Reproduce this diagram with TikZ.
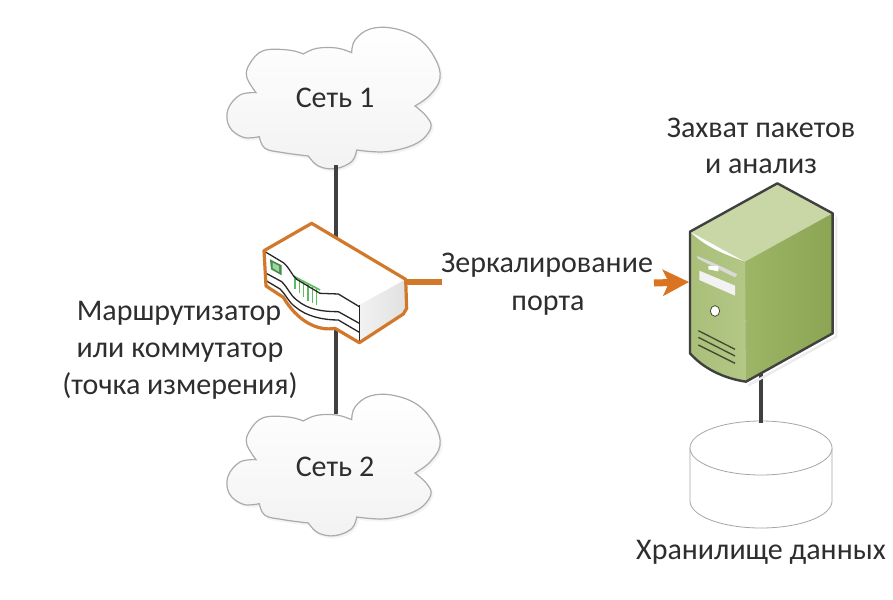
\documentclass[tikz,border=0pt]{standalone}
\usepackage{fontspec}
\setmainfont{Carlito}
\usetikzlibrary{arrows.meta}
\definecolor{inkc}{HTML}{2E2E2E}
\definecolor{wire}{HTML}{404040}
\definecolor{orangec}{HTML}{D2782A}
\definecolor{arrowc}{HTML}{DB7420}
\definecolor{cloudline}{HTML}{ABABAB}
\definecolor{greenc}{HTML}{5DBB63}
\definecolor{serverTop}{HTML}{C9D6A6}
\definecolor{serverRightA}{HTML}{9DB566}
\definecolor{serverRightB}{HTML}{8BA553}
\definecolor{serverFrontA}{HTML}{A9BF78}
\definecolor{serverFrontB}{HTML}{B4C786}
\definecolor{ventc}{HTML}{3F4A30}
\tikzset{
  lbl/.style={font=\fontsize{30}{34}\selectfont, text=inkc, inner sep=0pt, anchor=base},
  wireline/.style={draw=wire, line width=3.8pt},
  zoomed/.style={x=0.33333pt, y=-0.33333pt},
  cloudbody/.style={draw=cloudline, line width=1.2pt, top color=white, bottom color=black!5},
  cloudshadow/.style={fill=black!6, draw=black!4, line width=1.5pt},
  routerline/.style={draw=black!85, line width=1.3pt},
  routeredge/.style={draw=orangec, line width=3.2pt, line join=round},
  servedge/.style={draw=wire, line width=2.4pt, line join=round},
  ventline/.style={draw=ventc, line width=1.3pt},
  mirrorline/.style={draw=orangec, line width=6pt},
  dbline/.style={draw=black!35, line width=0.8pt}
}
\def\cloudpath{
  plot[smooth,tension=.65] coordinates {(108,218) (60,225) (24,268) (28,320) (70,352) (118,350)}
  -- plot[smooth,tension=.65] coordinates {(118,350) (135,385) (190,398) (265,408)}
  -- plot[smooth,tension=.65] coordinates {(265,408) (295,438) (345,446) (395,425) (410,390)}
  -- plot[smooth,tension=.65] coordinates {(410,390) (500,395) (590,370) (632,325) (620,290) (585,258)}
  -- plot[smooth,tension=.65] coordinates {(585,258) (630,225) (660,175) (645,115) (595,55) (520,25) (450,27) (405,60) (395,98)}
  -- plot[smooth,tension=.65] coordinates {(395,98) (350,84) (290,85) (250,102)}
  -- plot[smooth,tension=.65] coordinates {(250,102) (205,90) (130,92) (90,130) (80,170) (108,218)}
  -- cycle
}
\begin{document}
\begin{tikzpicture}[x=1pt,y=-1pt]
\useasboundingbox (0,0) rectangle (893,599);
\fill[white] (0,0) rectangle (893,599);

% anchor points of the connectors
\coordinate (cloudAout) at (336,165);
\coordinate (routerTop) at (336,245);
\coordinate (routerBot) at (336,326);
\coordinate (cloudBin) at (336,414);
\coordinate (routerPort) at (405,282);
\coordinate (serverIn) at (689,282);
\coordinate (serverBot) at (761,372);
\coordinate (dbTop) at (761,423);

% clouds
\begin{scope}[shift={(220,20)},zoomed]
  \path[cloudshadow,shift={(5,6)}] \cloudpath;
  \path[cloudbody] \cloudpath;
\end{scope}
\begin{scope}[shift={(220,387)},zoomed]
  \path[cloudshadow,shift={(5,6)}] \cloudpath;
  \path[cloudbody] \cloudpath;
\end{scope}
\node[lbl] (net1) at (335,108) {Сеть 1};
\node[lbl] (net2) at (335,476) {Сеть 2};

% vertical wires
\draw[wireline] (cloudAout) -- (routerTop);
\draw[wireline] (routerBot) -- (cloudBin);

% router
\begin{scope}[shift={(240,210)},zoomed]
  \fill[white] (72,122) -- (215,40) -- (497,208) -- (500,295) -- (490,312) -- (358,398) -- (285,355)
     .. controls (230,365) and (170,330) .. (130,262) -- (78,228) -- cycle;
  \shade[left color=black!5, right color=black!12] (358,285) -- (497,208) -- (500,295) -- (490,312) -- (358,398) -- cycle;
  \fill[greenc!75!black] (90,148) -- (125,166) -- (125,196) -- (93,178) -- cycle;
  \fill[greenc!60!white] (98,158) -- (117,168) -- (117,186) -- (98,174) -- cycle;
  \foreach \xa/\ya/\yb in {165/203/238,178/208/250,191/215/262,204/222/272,217/229/280,230/236/286}
    \draw[greenc,line width=1.6pt] (\xa,\ya) -- (\xa,\yb);
  \draw[greenc,line width=1.6pt] (160,198) -- (240,240);
  \draw[routerline] (75,125) -- (130,158) .. controls (150,175) and (155,195) .. (170,208) -- (240,250) -- (295,252) -- (358,290);
  \draw[routerline] (75,188) -- (125,215) .. controls (145,235) and (150,255) .. (170,270) .. controls (205,300) and (250,305) .. (295,305) -- (358,340);
  \draw[routerline] (75,210) -- (120,237) .. controls (140,257) and (145,275) .. (165,290) .. controls (200,320) and (250,330) .. (295,330) -- (358,367);
  \draw[routerline] (358,285) -- (358,398);
  \draw[routeredge] (72,122) -- (215,40) -- (497,208) -- (500,295) -- (490,312) -- (358,398) -- (285,355)
     .. controls (230,365) and (170,330) .. (130,262) -- (78,228) -- cycle;
\end{scope}

% database
\draw[dbline, fill=white] (690,448) -- (690,501) arc[start angle=180,end angle=0,x radius=71,y radius=27] -- (832,448);
\draw[dbline, fill=white] (761,448) ellipse[x radius=71,y radius=27];
\draw[wireline] (serverBot) -- (dbTop);

% server
\begin{scope}[shift={(640,180)},zoomed]
  \fill[black!8] (325,612) -- (586,468) -- (586,110) -- (592,110) -- (592,472) -- (325,620) -- cycle;
  \fill[serverTop] (150,155) -- (412,10) -- (578,100) -- (315,245) -- cycle;
  \shade[left color=serverRightA, right color=serverRightB] (315,245) -- (578,100) -- (578,460) -- (318,605) -- cycle;
  \shade[left color=serverFrontA, right color=serverFrontB] (150,155) .. controls (200,205) and (260,225) .. (315,245) -- (318,605) .. controls (250,595) and (190,565) .. (150,520) -- cycle;
  \fill[black!15] (172,228) .. controls (220,248) and (250,262) .. (292,283) -- (285,292) .. controls (250,275) and (210,255) .. (172,235) -- cycle;
  \fill[white] (205,258) -- (235,258) -- (235,274) -- (205,268) -- cycle;
  \fill[black!5] (178,272) -- (285,317) -- (285,347) -- (178,300) -- cycle;
  \fill[white,draw=ventc,line width=0.8pt] (225,393) circle[x radius=14,y radius=16];
  \draw[ventline] (175,452) -- (285,508);
  \draw[ventline] (175,472) -- (285,528);
  \draw[ventline] (175,495) -- (285,550);
  \draw[servedge] (150,155) -- (412,10) -- (578,100) -- (578,460) -- (318,605) .. controls (250,595) and (190,565) .. (150,520) -- cycle;
\end{scope}

% labels
\node[lbl] (capture1) at (761,137) {Захват пакетов};
\node[lbl] (capture2) at (761,173) {и анализ};
\node[lbl] (mirror1) at (547,272) {Зеркалирование};
\node[lbl] (mirror2) at (548,310) {порта};
\node[lbl] (router1) at (179,320) {Маршрутизатор};
\node[lbl] (router2) at (180,357) {или коммутатор};
\node[lbl] (router3) at (180,394) {(точка измерения)};
\node[lbl] (store) at (761,559) {Хранилище данных};

% mirror connector
\coordinate (portEnd) at (442,282);
\coordinate (arrowStart) at (654,283);
\draw[mirrorline] (routerPort) -- (portEnd);
\draw[draw=arrowc,line width=7pt,-{Stealth[length=26pt,width=26pt,inset=6pt]}] (arrowStart) -- (serverIn);
\end{tikzpicture}
\end{document}
